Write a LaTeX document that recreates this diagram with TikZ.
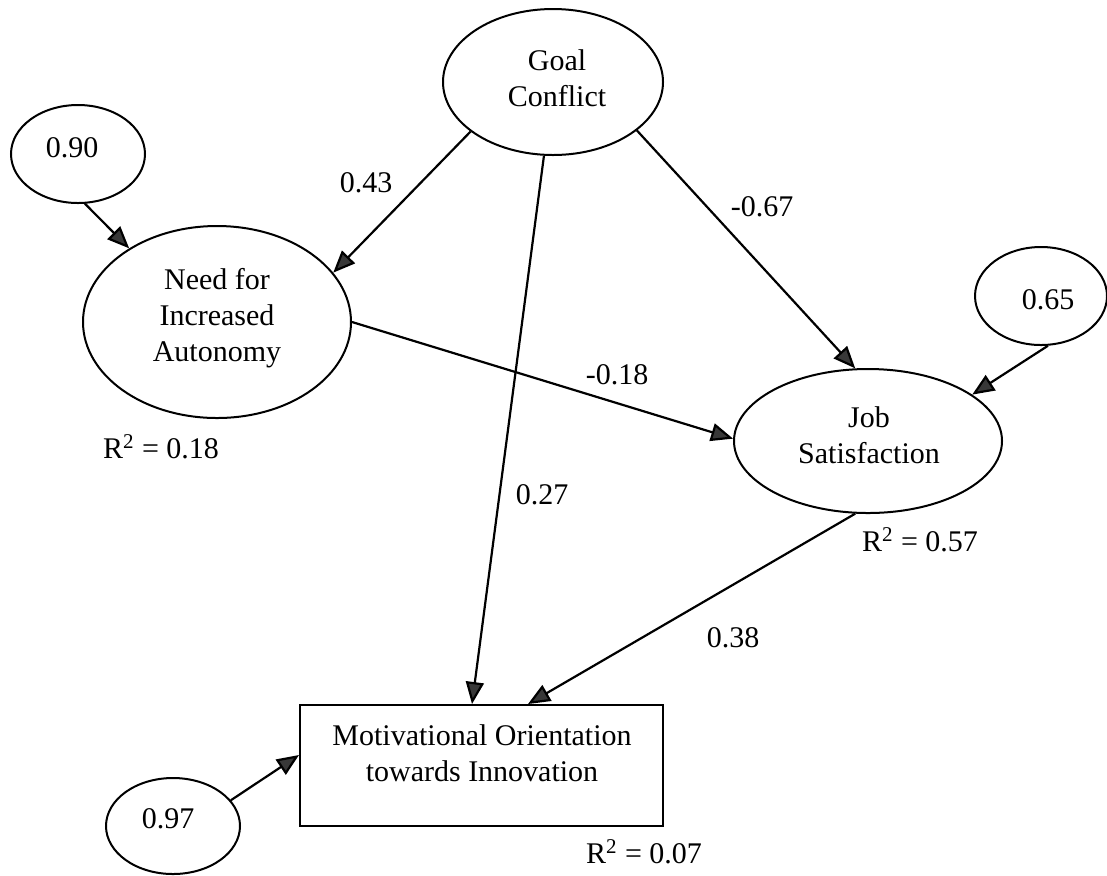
\documentclass[tikz,border=0pt]{standalone}
\usepackage{fontspec}
\setmainfont{Liberation Serif}
\usetikzlibrary{shapes.geometric,arrows.meta,calc}
\begin{document}
\begin{tikzpicture}[x=0.5pt,y=-0.5pt,
  every node/.style={font=\fontsize{15}{18}\selectfont},
  oval/.style={draw,ellipse,line width=1pt,inner sep=0pt},
  box/.style={draw,rectangle,line width=1pt,inner sep=0pt},
  txt/.style={align=center,inner sep=0pt},
  path/.style={draw,line width=1.1pt,-{Triangle[length=11pt,width=9pt,fill=black!78]}}
]
\useasboundingbox (0,0) rectangle (1107,875);

% shapes
\node[oval,minimum width=110pt,minimum height=73pt] (goal) at (553,82) {};
\node[oval,minimum width=134pt,minimum height=96pt] (need) at (217,322) {};
\node[oval,minimum width=134pt,minimum height=72pt] (job) at (868,441) {};
\node[box,minimum width=181.5pt,minimum height=60.5pt] (moti) at (481.5,765.5) {};
\node[oval,minimum width=67pt,minimum height=49pt] (e1) at (78,154) {};
\node[oval,minimum width=66pt,minimum height=49pt] (e2) at (1041,296) {};
\node[oval,minimum width=67pt,minimum height=48pt] (e3) at (173,826) {};

% texts inside shapes
\node[txt] (goalT) at (557,78) {Goal\\Conflict};
\node[txt] (needT) at (217,318) {Need for\\Increased\\Autonomy};
\node[txt] (jobT) at (869,435) {Job\\Satisfaction};
\node[txt] (motiT) at (482,753) {Motivational Orientation\\towards Innovation};
\node[txt] (e1T) at (72,148) {0.90};
\node[txt] (e2T) at (1048,300) {0.65};
\node[txt] (e3T) at (168,819) {0.97};

% connectors
\draw[path] (goal.211) -- (need.23);
\draw[path] (e1.278) -- (need.140);
\draw[path] (goal.330) -- (job.100);
\draw[path] (e2.278) -- (job.24);
\draw[path] (need.0) -- (job.179);
\draw[path] (goal.263) -- ($(moti.north)+(-9.5,0)$);
\draw[path] (job.260) -- ($(moti.north)+(46.5,0)$);
\draw[path] (e3.24) -- ($(moti.west)+(0,-10.5)$);

% coefficient labels
\node[txt] (l1) at (366,183) {0.43};
\node[txt] (l2) at (762,207) {-0.67};
\node[txt] (l3) at (617,375) {-0.18};
\node[txt] (l4) at (542,495) {0.27};
\node[txt] (l5) at (733,638) {0.38};
\node[txt] (r1) at (161,447) {R\textsuperscript{2} = 0.18};
\node[txt] (r2) at (920,540) {R\textsuperscript{2} = 0.57};
\node[txt] (r3) at (644,852) {R\textsuperscript{2} = 0.07};
\end{tikzpicture}
\end{document}
